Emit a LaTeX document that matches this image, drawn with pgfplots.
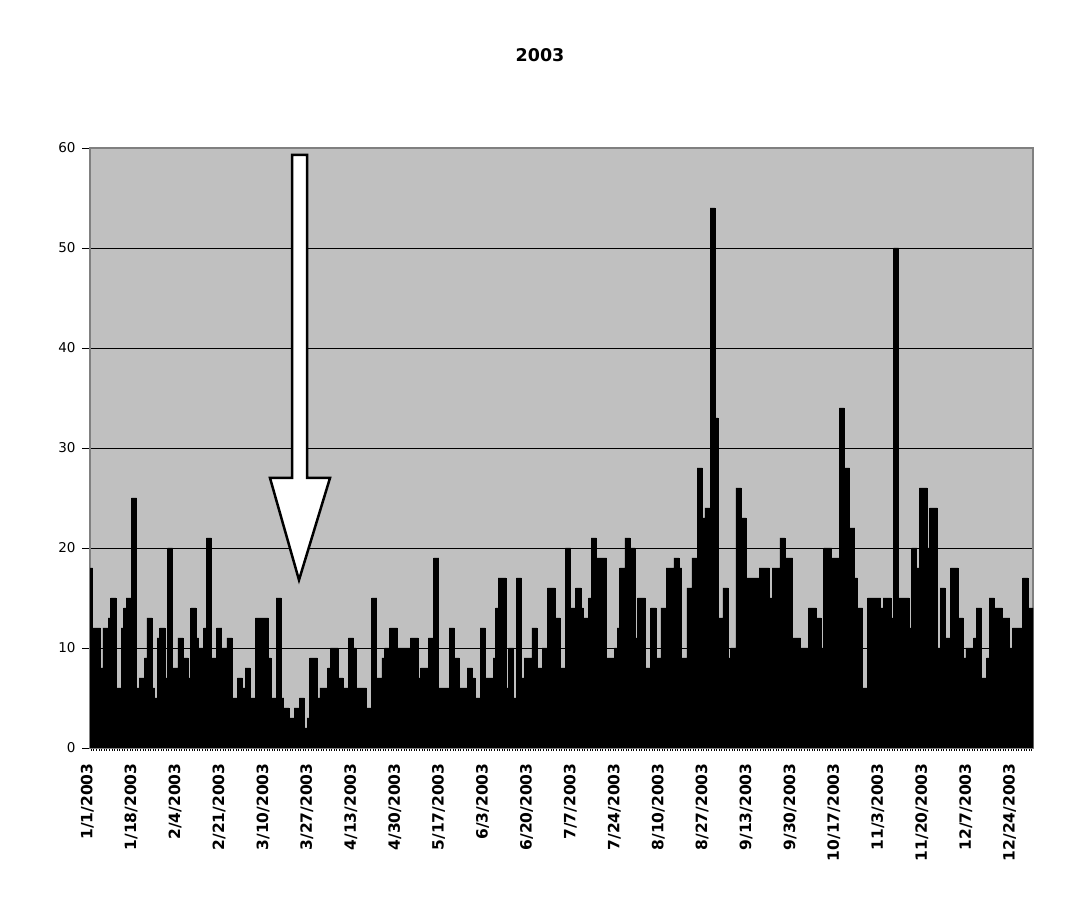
\documentclass[border=0pt]{standalone}
\usepackage{fontspec}
\setmainfont{DejaVu Sans}
\usepackage{pgfplots}
\pgfplotsset{compat=1.18}
\definecolor{plotgray}{RGB}{192,192,192}
\definecolor{bordergray}{RGB}{128,128,128}
\begin{document}
\begin{tikzpicture}[x=1bp,y=1bp]
\useasboundingbox (0,0) rectangle (1083,923);
\node[font=\fontsize{17.5bp}{20bp}\selectfont\bfseries] at (540,868) {2003};
\begin{axis}[
  at={(90bp,175bp)}, anchor=south west,
  width=943bp, height=600bp, scale only axis,
  xmin=-0.5, xmax=364.5, ymin=0, ymax=60,
  /pgf/number format/assume math mode=true,
  axis background/.style={fill=plotgray},
  axis line style={draw=bordergray, line width=1.2bp},
  ytick={0,10,...,60},
  ymajorgrids, grid style={black, line width=0.8bp},
  xtick={0,17,...,357},
  xticklabels={1/1/2003,1/18/2003,2/4/2003,2/21/2003,3/10/2003,3/27/2003,4/13/2003,4/30/2003,5/17/2003,6/3/2003,6/20/2003,7/7/2003,7/24/2003,8/10/2003,8/27/2003,9/13/2003,9/30/2003,10/17/2003,11/3/2003,11/20/2003,12/7/2003,12/24/2003},
  minor xtick={0,...,364},
  tick align=outside,
  major tick length=8bp, minor tick length=3bp,
  major x tick style={draw=none},
  tick style={black, line width=0.8bp},
  xtick pos=left, ytick pos=left,
  y tick label style={font=\fontsize{13.5bp}{15bp}\selectfont, xshift=-3bp},
  x tick label style={font=\fontsize{15.5bp}{18bp}\selectfont\bfseries, xshift=-4bp, yshift=-4bp, rotate=90, anchor=east},
]
\addplot[ybar, bar width=1, bar shift=0, fill=black, draw=black, line width=0.6bp] coordinates {
(0,18) (1,12) (2,12) (3,12) (4,8) (5,12) (6,12) (7,13) (8,15) (9,15)
(10,6) (11,6) (12,12) (13,14) (14,15) (15,15) (16,25) (17,25) (18,6) (19,7)
(20,7) (21,9) (22,13) (23,13) (24,6) (25,5) (26,11) (27,12) (28,12) (29,7)
(30,20) (31,20) (32,8) (33,8) (34,11) (35,11) (36,9) (37,9) (38,7) (39,14)
(40,14) (41,11) (42,10) (43,10) (44,12) (45,21) (46,21) (47,9) (48,9) (49,12)
(50,12) (51,10) (52,10) (53,11) (54,11) (55,5) (56,5) (57,7) (58,7) (59,6)
(60,8) (61,8) (62,5) (63,5) (64,13) (65,13) (66,13) (67,13) (68,13) (69,9)
(70,5) (71,5) (72,15) (73,15) (74,5) (75,4) (76,4) (77,3) (78,3) (79,4)
(80,4) (81,5) (82,5) (83,2) (84,3) (85,9) (86,9) (87,9) (88,5) (89,6)
(90,6) (91,6) (92,8) (93,10) (94,10) (95,10) (96,7) (97,7) (98,6) (99,6)
(100,11) (101,11) (102,10) (103,6) (104,6) (105,6) (106,6) (107,4) (108,4) (109,15)
(110,15) (111,7) (112,7) (113,9) (114,10) (115,10) (116,12) (117,12) (118,12) (119,10)
(120,10) (121,10) (122,10) (123,10) (124,11) (125,11) (126,11) (127,7) (128,8) (129,8)
(130,8) (131,11) (132,11) (133,19) (134,19) (135,6) (136,6) (137,6) (138,6) (139,12)
(140,12) (141,9) (142,9) (143,6) (144,6) (145,6) (146,8) (147,8) (148,7) (149,5)
(150,5) (151,12) (152,12) (153,7) (154,7) (155,7) (156,9) (157,14) (158,17) (159,17)
(160,17) (161,6) (162,10) (163,10) (164,5) (165,17) (166,17) (167,7) (168,9) (169,9)
(170,9) (171,12) (172,12) (173,8) (174,8) (175,10) (176,10) (177,16) (178,16) (179,16)
(180,13) (181,13) (182,8) (183,8) (184,20) (185,20) (186,14) (187,14) (188,16) (189,16)
(190,14) (191,13) (192,13) (193,15) (194,21) (195,21) (196,19) (197,19) (198,19) (199,19)
(200,9) (201,9) (202,9) (203,10) (204,12) (205,18) (206,18) (207,21) (208,21) (209,20)
(210,20) (211,11) (212,15) (213,15) (214,15) (215,8) (216,8) (217,14) (218,14) (219,9)
(220,9) (221,14) (222,14) (223,18) (224,18) (225,18) (226,19) (227,19) (228,18) (229,9)
(230,9) (231,16) (232,16) (233,19) (234,19) (235,28) (236,28) (237,23) (238,24) (239,24)
(240,54) (241,54) (242,33) (243,13) (244,13) (245,16) (246,16) (247,9) (248,10) (249,10)
(250,26) (251,26) (252,23) (253,23) (254,17) (255,17) (256,17) (257,17) (258,17) (259,18)
(260,18) (261,18) (262,18) (263,15) (264,18) (265,18) (266,18) (267,21) (268,21) (269,19)
(270,19) (271,19) (272,11) (273,11) (274,11) (275,10) (276,10) (277,10) (278,14) (279,14)
(280,14) (281,13) (282,13) (283,10) (284,20) (285,20) (286,20) (287,19) (288,19) (289,19)
(290,34) (291,34) (292,28) (293,28) (294,22) (295,22) (296,17) (297,14) (298,14) (299,6)
(300,6) (301,15) (302,15) (303,15) (304,15) (305,15) (306,14) (307,15) (308,15) (309,15)
(310,13) (311,50) (312,50) (313,15) (314,15) (315,15) (316,15) (317,12) (318,20) (319,20)
(320,18) (321,26) (322,26) (323,26) (324,20) (325,24) (326,24) (327,24) (328,10) (329,16)
(330,16) (331,11) (332,11) (333,18) (334,18) (335,18) (336,13) (337,13) (338,9) (339,10)
(340,10) (341,10) (342,11) (343,14) (344,14) (345,7) (346,7) (347,9) (348,15) (349,15)
(350,14) (351,14) (352,14) (353,13) (354,13) (355,13) (356,10) (357,12) (358,12) (359,12)
(360,12) (361,17) (362,17) (363,14) (364,14)
};
\end{axis}
\draw[fill=white, draw=black, line width=2.5bp, line join=miter]
  (292,768) -- (307,768) -- (307,445) -- (330,445) -- (299,343) -- (270,445) -- (292,445) -- cycle;
\end{tikzpicture}
\end{document}
